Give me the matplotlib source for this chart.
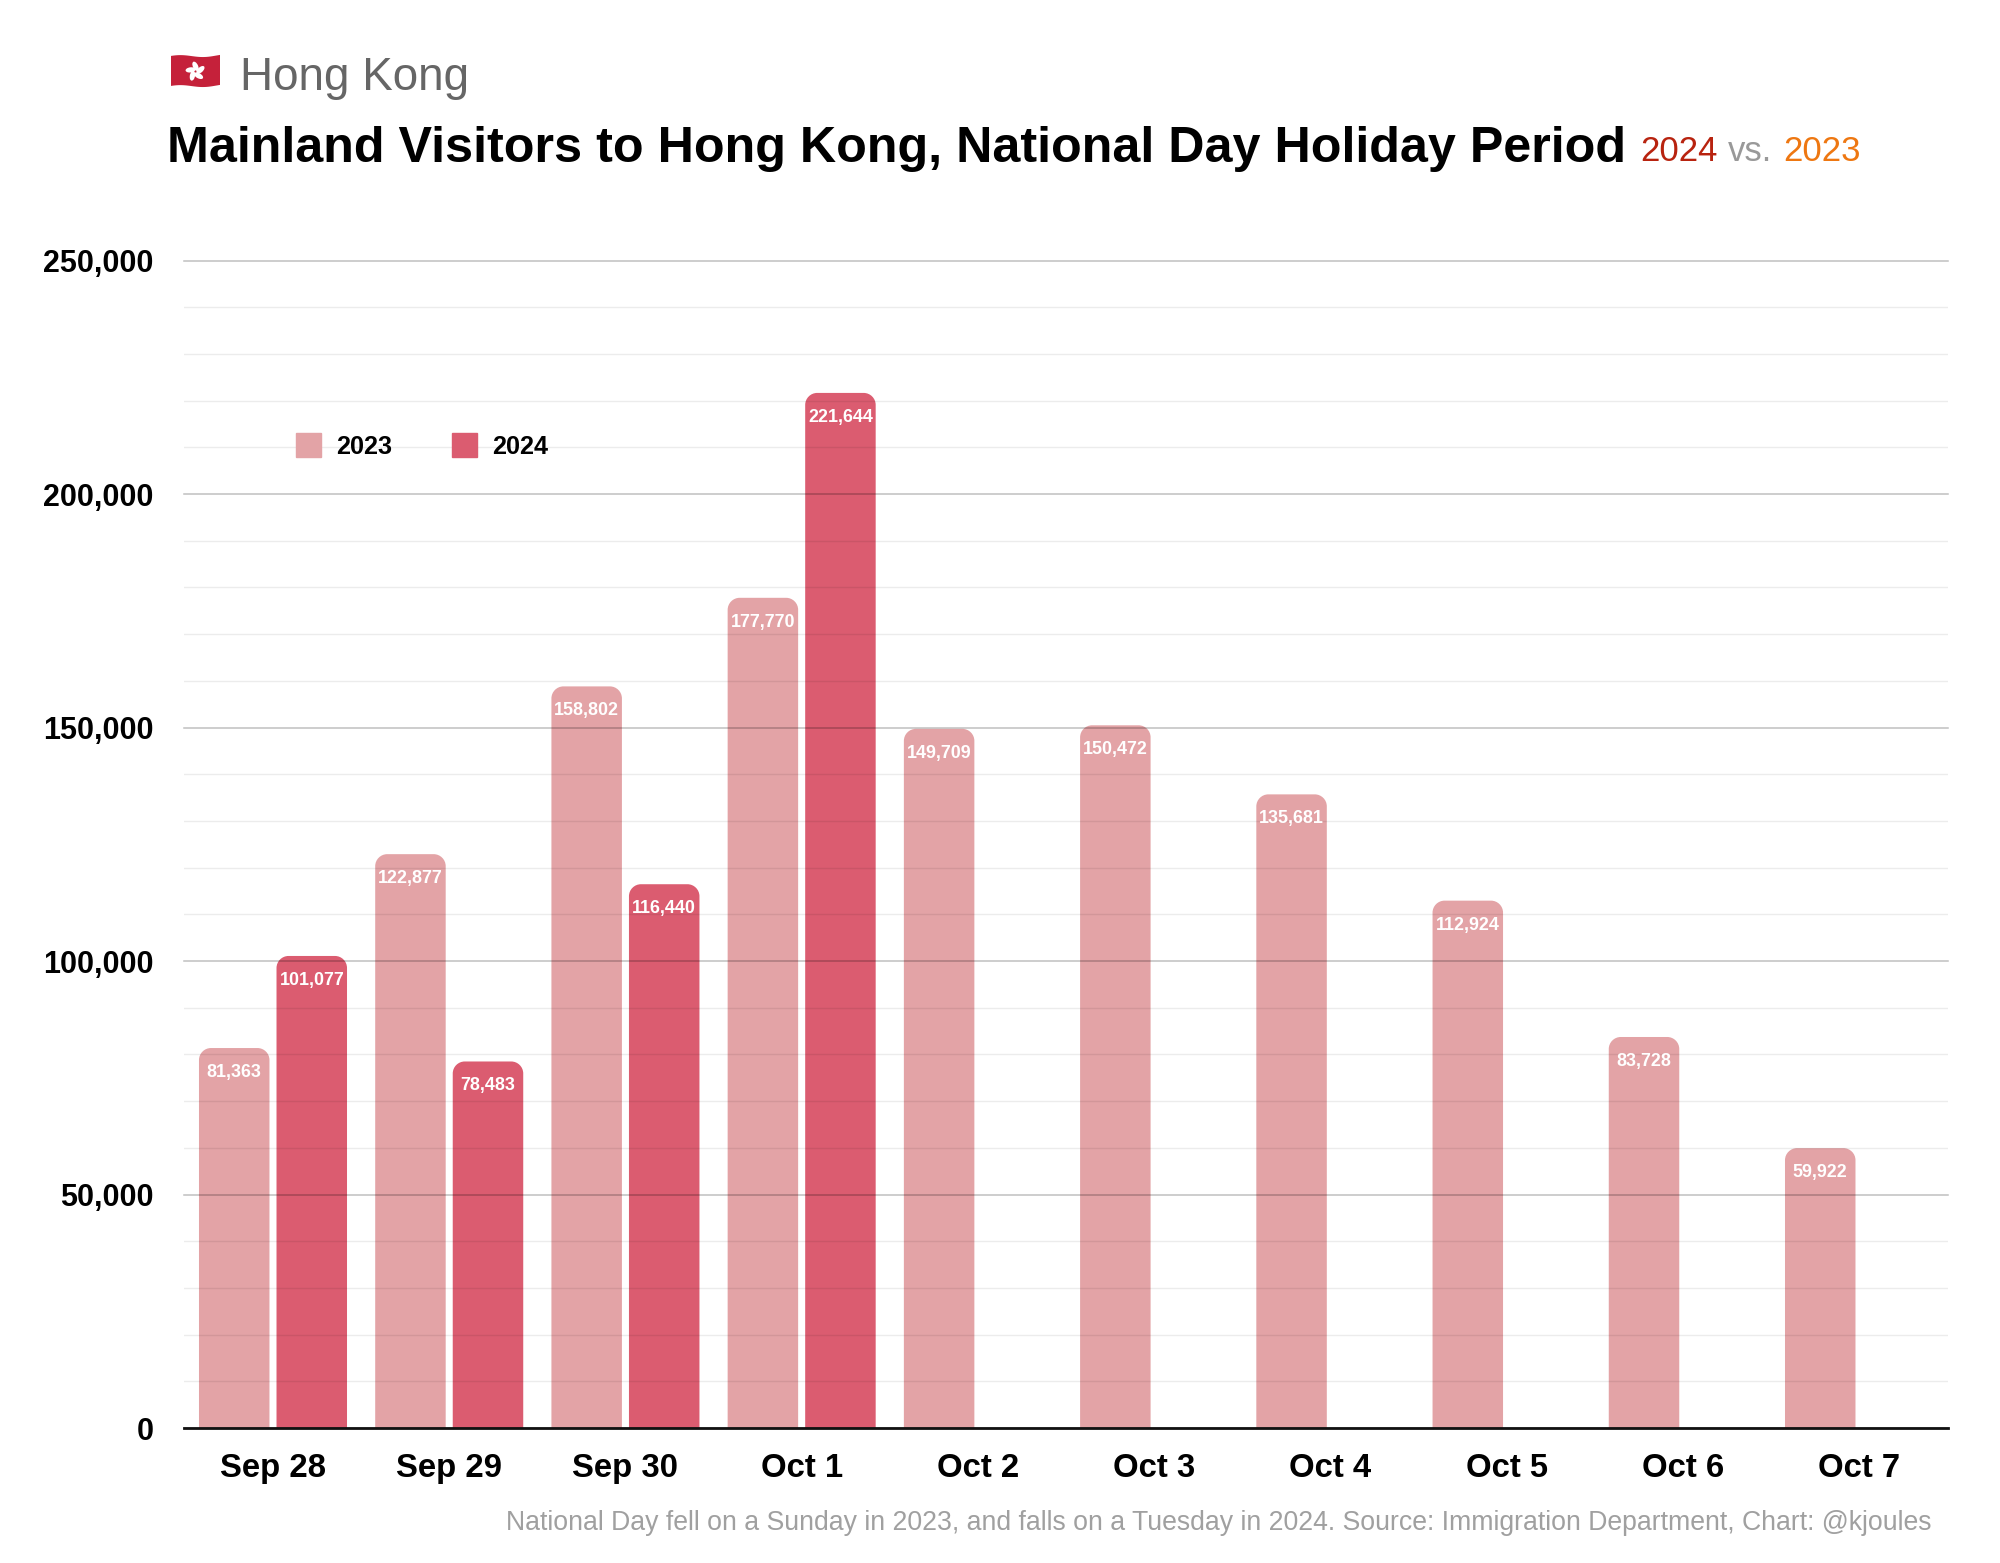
import numpy as np
import matplotlib
matplotlib.use("Agg")
import matplotlib.pyplot as plt
from matplotlib.path import Path
from matplotlib.patches import PathPatch, Patch, Ellipse, Polygon

days = ["Sep 28", "Sep 29", "Sep 30", "Oct 1", "Oct 2", "Oct 3", "Oct 4", "Oct 5", "Oct 6", "Oct 7"]
visitors_2023 = [81363, 122877, 158802, 177770, 149709, 150472, 135681, 112924, 83728, 59922]
visitors_2024 = [101077, 78483, 116440, 221644]
major_ticks = [0, 50000, 100000, 150000, 200000, 250000]

W, H = 2000, 1563
C23, C24 = "#E3A3A6", "#DB5C70"
plt.rcParams["font.family"] = ["Liberation Sans", "DejaVu Sans"]

fig = plt.figure(figsize=(W / 100, H / 100), dpi=100, facecolor="white")


def fx(p):
    return p / W


def fy(p):
    return 1 - p / H


L, R, T, B = 184, 1948, 260.5, 1428
ax = fig.add_axes([fx(L), fy(B), (R - L) / W, (B - T) / H])
ax.set_xlim(-0.505, 9.505)
ax.set_ylim(0, 250000)

BW, OFF = 0.40, 0.22
rx = 12 * 10.01 / (R - L)
ry = 12 * 250000 / (B - T)


def rounded_bar(x, v, color):
    l, r = x - BW / 2, x + BW / 2
    k = 0.45
    verts = [(l, 0), (l, v - ry),
             (l, v - ry * k), (l + rx * k, v), (l + rx, v),
             (r - rx, v),
             (r - rx * k, v), (r, v - ry * k), (r, v - ry),
             (r, 0), (l, 0)]
    codes = [Path.MOVETO, Path.LINETO,
             Path.CURVE4, Path.CURVE4, Path.CURVE4,
             Path.LINETO,
             Path.CURVE4, Path.CURVE4, Path.CURVE4,
             Path.LINETO, Path.CLOSEPOLY]
    ax.add_patch(PathPatch(Path(verts, codes), facecolor=color, edgecolor="none", zorder=2))
    ax.annotate(f"{v:,}", (x, v), xytext=(0, -24.5 * 0.72), textcoords="offset points",
                ha="center", va="center", color="white", fontsize=12.9,
                fontweight="bold", zorder=6)


for i, v in enumerate(visitors_2023):
    rounded_bar(i - OFF, v, C23)
for i, v in enumerate(visitors_2024):
    rounded_bar(i + OFF, v, C24)

ax.set_axisbelow(False)
ax.set_yticks(major_ticks)
ax.set_yticklabels([f"{t:,}" for t in major_ticks], fontsize=22, fontweight="bold")
ax.set_yticks([t for t in range(0, 250001, 10000) if t % 50000], minor=True)
ax.set_xticks(range(len(days)))
ax.set_xticklabels(days, fontsize=23.7, fontweight="bold")
ax.grid(True, which="major", axis="y", color="black", alpha=0.25, lw=1.1, clip_on=False)
ax.grid(True, which="minor", axis="y", color="black", alpha=0.075, lw=1.0)
ax.grid(False, axis="x")
ax.tick_params(axis="both", which="both", length=0)
ax.tick_params(axis="y", pad=22)
ax.tick_params(axis="x", pad=18)
for s in ("top", "left", "right"):
    ax.spines[s].set_visible(False)
ax.spines["bottom"].set_linewidth(2.0)
ax.spines["bottom"].set_color("#111111")
ax.spines["bottom"].set_zorder(5)

leg = fig.legend(handles=[Patch(color=C23, label="2023"), Patch(color=C24, label="2024")],
                 loc="center left", bbox_to_anchor=(fx(296), fy(446)), ncol=2, frameon=False,
                 prop={"size": 18.1, "weight": "bold"}, borderpad=0, borderaxespad=0,
                 handlelength=1.0, handleheight=1.07, handletextpad=0.6, columnspacing=2.36)

fig.text(fx(240), fy(90.5), "Hong Kong", fontsize=33, color="#666666", ha="left", va="baseline")
fig.text(fx(167), fy(161.5), "Mainland Visitors to Hong Kong, National Day Holiday Period",
         fontsize=36.23, fontweight="bold", color="black", ha="left", va="baseline")
fig.text(fx(1640), fy(161), "2024", fontsize=25, color="#B8230F", ha="left", va="baseline")
fig.text(fx(1728), fy(161), "vs.", fontsize=25, color="#999999", ha="left", va="baseline")
fig.text(fx(1783), fy(161), "2023", fontsize=25, color="#EE7711", ha="left", va="baseline")
fig.text(fx(1932), fy(1529.5), "National Day fell on a Sunday in 2023, and falls on a Tuesday in 2024. "
         "Source: Immigration Department, Chart: @kjoules",
         fontsize=19.15, color="#A0A0A0", ha="right", va="baseline")

# Hong Kong flag emoji
fa = fig.add_axes([fx(171), fy(89), 49 / W, 35 / H])
fa.set_xlim(0, 49)
fa.set_ylim(0, 35)
fa.axis("off")
t = np.linspace(0, 49, 40)
wave = 1.2 * np.sin(t / 49 * 2 * np.pi + 0.5)
top = np.c_[t, 32.5 + wave + 1.0 * t / 49]
bot = np.c_[t[::-1], (2.5 + wave + 1.0 * t / 49)[::-1]]
fa.add_patch(Polygon(np.r_[top, bot], closed=True, facecolor="#C5213A", edgecolor="none"))
for k in range(5):
    ang = np.pi / 2 + k * 2 * np.pi / 5
    cx, cy = 24.5 + 5.2 * np.cos(ang), 17.5 + 5.2 * np.sin(ang)
    fa.add_patch(Ellipse((cx, cy), 10, 5.2, angle=np.degrees(ang) + 25,
                         facecolor="white", edgecolor="none"))

fig.savefig("out.png", dpi=100, facecolor="white")
